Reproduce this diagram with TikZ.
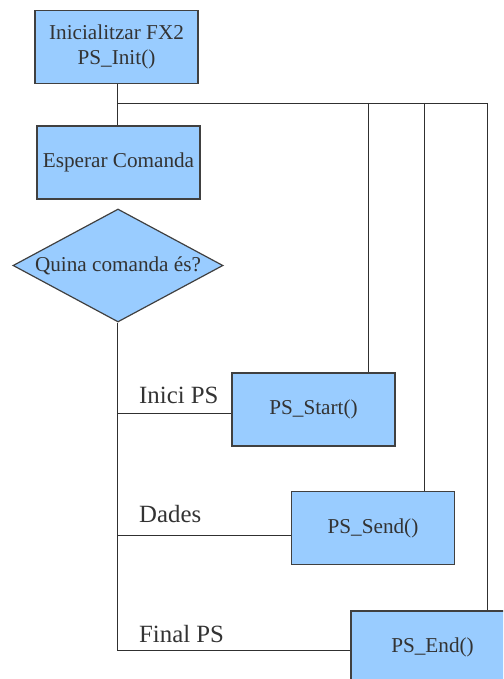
\documentclass[tikz,border=0pt]{standalone}
\usepackage{fontspec}
\setmainfont{Liberation Serif}
\usetikzlibrary{shapes.geometric,calc}
\definecolor{boxfill}{HTML}{99CCFF}
\definecolor{boxline}{HTML}{404040}
\definecolor{wire}{HTML}{303030}
\begin{document}
\begin{tikzpicture}[x=1pt,y=-1pt,
  stepbox/.style={draw=boxline,fill=boxfill,line width=1.2pt,
    minimum width=163pt,minimum height=73pt,inner sep=0pt,
    align=center,font=\fontsize{21.2}{25.5}\selectfont,text=black!80},
  choice/.style={draw=boxline,fill=boxfill,line width=1.2pt,shape=diamond,
    aspect=1.86,inner sep=0pt,minimum width=210pt,minimum height=113pt,
    font=\fontsize{21.2}{25.5}\selectfont,text=black!80},
  wireline/.style={draw=wire,line width=0.9pt},
  branchlabel/.style={anchor=base west,inner sep=0pt,
    font=\fontsize{24.8}{28}\selectfont,text=black!80}]
\useasboundingbox (0,0) rectangle (503,679);
\begin{scope}
\clip (0,0) rectangle (503,679);

% main column
\node[stepbox] (init) at (116.5,47) {Inicialitzar FX2\\PS\_Init()};
\node[stepbox] (wait) at (118.5,162.5) {Esperar Comanda};
\node[choice] (ask) at (118,265.5) {Quina comanda és?};

% handlers
\node[stepbox] (start) at (313.5,409.5) {PS\_Start()};
\node[stepbox] (send) at (373,528) {PS\_Send()};
\node[stepbox] (stop) at (432.5,647.5) {PS\_End()};

% junction points
\coordinate (j) at (117,103);
\coordinate (r1) at (368,103);
\coordinate (r2) at (424,103);
\coordinate (r3) at (487,103);
\coordinate (b1) at (117,413);
\coordinate (b2) at (117,535);
\coordinate (b3) at (117,650);

% connectors
\draw[wireline] (init.south -| j) -- (wait.north -| j);
\draw[wireline] (j) -- (r3);
\draw[wireline] (r1) -- (r1 |- start.north);
\draw[wireline] (r2) -- (r2 |- send.north);
\draw[wireline] (r3) -- (r3 |- stop.north);
\draw[wireline] (ask.south -| b1) -- (b3);
\draw[wireline] (b1) -- (b1 -| start.west);
\draw[wireline] (b2) -- (b2 -| send.west);
\draw[wireline] (b3) -- (b3 -| stop.west);

% branch labels
\node[branchlabel] (l1) at (139,403) {Inici PS};
\node[branchlabel] (l2) at (139,522) {Dades};
\node[branchlabel] (l3) at (139,642) {Final PS};
\end{scope}
\end{tikzpicture}
\end{document}
